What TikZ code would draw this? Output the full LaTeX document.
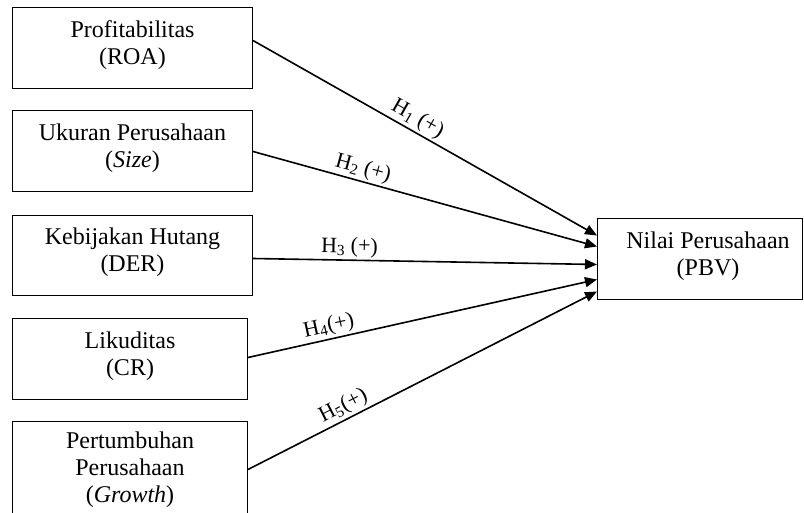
\documentclass[tikz,border=0pt]{standalone}
\usepackage{fontspec}
\setmainfont{Liberation Serif}
\usetikzlibrary{arrows.meta,calc}
\begin{document}
\begin{tikzpicture}[x=1pt,y=-1pt,
  box/.style={draw,line width=1pt,inner sep=0pt,anchor=north west},
  txt/.style={align=center,inner sep=0pt,font=\fontsize{24}{27}\selectfont},
  lbl/.style={inner sep=2pt,font=\fontsize{22}{25}\selectfont},
  arr/.style={line width=1.6pt,-{Triangle[length=12pt,width=10pt]}}]
\useasboundingbox (0,0) rectangle (804,513);
\fill[white] (0,0) rectangle (804,513);
\clip (0,0) rectangle (804,513);
% boxes
\node[box,minimum width=240pt,minimum height=81pt] (b1) at (12,7) {};
\node[box,minimum width=240pt,minimum height=81pt] (b2) at (12,110) {};
\node[box,minimum width=240pt,minimum height=80pt] (b3) at (12,215) {};
\node[box,minimum width=235pt,minimum height=81pt] (b4) at (12,318) {};
\node[box,minimum width=235pt,minimum height=97pt] (b5) at (12,421) {};
\node[box,minimum width=205pt,minimum height=81pt] (b6) at (597,218) {};
% texts
\node[txt] (t1) at ($(b1.center)+(0,-3)$) {Profitabilitas\\(ROA)};
\node[txt] (t2) at ($(b2.center)+(0,-3)$) {Ukuran Perusahaan\\(\textit{Size})};
\node[txt] (t3) at ($(b3.center)+(0,-3)$) {Kebijakan Hutang\\(DER)};
\node[txt] (t4) at ($(b4.center)+(0,-3)$) {Likuditas\\(CR)};
\node[txt] (t5) at ($(b5.center)+(0,0)$) {Pertumbuhan\\Perusahaan\\(\textit{Growth})};
\node[txt] (t6) at ($(b6.center)+(8,-3)$) {Nilai Perusahaan\\(PBV)};
% connectors
\draw[arr] ($(b1.east)+(0,-7.5)$) -- node[lbl,sloped,above,pos=0.46] (h1) {H\textsubscript{1} (+)} ($(b6.west)+(0,-23.5)$);
\draw[arr] ($(b2.east)+(0,0.5)$) -- node[lbl,sloped,above,pos=0.31] (h2) {H\textsubscript{2} (+)} ($(b6.west)+(0,-12.5)$);
\draw[arr] ($(b3.east)+(0,3)$) -- node[lbl,sloped,above,pos=0.28] (h3) {H\textsubscript{3} (+)} ($(b6.west)+(0,5.5)$);
\draw[arr] ($(b4.east)+(0,-1.5)$) -- node[lbl,sloped,above,pos=0.24] (h4) {H\textsubscript{4}(+)} ($(b6.west)+(0,20.5)$);
\draw[arr] ($(b5.east)+(0,-0.5)$) -- node[lbl,sloped,above,pos=0.29] (h5) {H\textsubscript{5}(+)} ($(b6.west)+(0,32.5)$);
\end{tikzpicture}
\end{document}
